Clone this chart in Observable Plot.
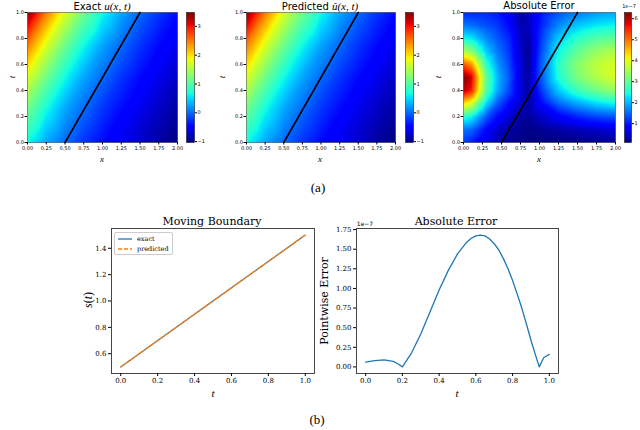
<!DOCTYPE html>
<html><head><meta charset="utf-8">
<script src="https://cdn.jsdelivr.net/npm/d3@7"></script>
<script src="https://cdn.jsdelivr.net/npm/@observablehq/plot@0.6"></script>
<style>
body{margin:0;background:#fff;}
#root{position:relative;width:640px;height:430px;overflow:hidden;background:#fff;}
.lbl{position:absolute;white-space:nowrap;transform:translate(-50%,-50%);color:#000;line-height:1;}
.m{font-family:"Liberation Serif",serif;font-style:italic;}
</style></head><body><div id="root"></div>
<script>
// ---------- data ----------
const xGrid = [0, 0.25, 0.5, 0.75, 1.0, 1.25, 1.5, 1.75, 2.0];
const tGrid = [0, 0.25, 0.5, 0.75, 1.0];
const uExact = [
  [0.65, 0.27, 0.00, -0.24, -0.44, -0.61, -0.76, -0.90, -1.03],
  [1.15, 0.65, 0.27, 0.00, -0.24, -0.44, -0.61, -0.76, -0.90],
  [1.75, 1.15, 0.65, 0.27, 0.00, -0.24, -0.44, -0.61, -0.76],
  [2.50, 1.75, 1.15, 0.65, 0.27, 0.00, -0.24, -0.44, -0.61],
  [3.48, 2.50, 1.75, 1.15, 0.65, 0.27, 0.00, -0.24, -0.44]
];
const uPred = [
  [0.65, 0.27, 0.00, -0.24, -0.44, -0.61, -0.76, -0.90, -1.03],
  [1.15, 0.65, 0.27, 0.00, -0.24, -0.44, -0.61, -0.76, -0.90],
  [1.75, 1.15, 0.65, 0.27, 0.00, -0.24, -0.44, -0.61, -0.76],
  [2.50, 1.75, 1.15, 0.65, 0.27, 0.00, -0.24, -0.44, -0.61],
  [3.48, 2.50, 1.75, 1.15, 0.65, 0.27, 0.00, -0.24, -0.44]
];
// absolute error field, in units of 1e-7
const xErrGrid = [0, 0.1, 0.2, 0.3, 0.45, 0.6, 0.75, 0.85, 1.0, 1.25, 1.5, 1.75, 2.0];
const tErrGrid = [0, 0.1, 0.2, 0.3, 0.4, 0.5, 0.6, 0.7, 0.8, 0.9, 1.0];
const errField = [
  [1.2, 1.05, 0.8, 0.55, 0.35, 0.2, 0.15, 0.1, 0.1, 0.1, 0.12, 0.15, 0.2],
  [1.6, 1.5, 1.2, 0.85, 0.5, 0.3, 0.2, 0.15, 0.2, 0.3, 0.4, 0.5, 0.6],
  [2.6, 2.4, 1.9, 1.4, 0.9, 0.55, 0.3, 0.25, 0.45, 0.8, 1.1, 1.3, 1.4],
  [4.3, 3.9, 3.0, 2.2, 1.4, 0.9, 0.5, 0.3, 0.8, 1.5, 1.9, 2.2, 2.4],
  [6.0, 5.6, 4.2, 2.9, 1.9, 1.3, 0.6, 0.3, 1.1, 2.1, 2.7, 3.1, 3.4],
  [6.3, 5.9, 4.4, 3.0, 2.0, 1.4, 0.6, 0.25, 1.3, 2.5, 3.2, 3.6, 3.9],
  [5.2, 4.8, 3.7, 2.6, 1.8, 1.3, 0.6, 0.2, 1.3, 2.6, 3.3, 3.7, 3.9],
  [3.6, 3.3, 2.7, 2.1, 1.6, 1.2, 0.5, 0.2, 1.2, 2.4, 3.0, 3.4, 3.6],
  [2.4, 2.3, 2.0, 1.7, 1.4, 1.1, 0.45, 0.3, 1.1, 2.1, 2.6, 2.9, 3.0],
  [1.6, 1.55, 1.45, 1.35, 1.2, 0.9, 0.35, 0.4, 1.0, 1.7, 2.1, 2.3, 2.4],
  [1.1, 1.1, 1.1, 1.1, 1.0, 0.75, 0.3, 0.45, 0.9, 1.35, 1.6, 1.8, 1.9]
];
// moving boundary
const tB = [0, 0.25, 0.5, 0.75, 1.0];
const sExact = [0.5, 0.75, 1.0, 1.25, 1.5];
const sPred = [0.5, 0.75, 1.0, 1.25, 1.5];
// pointwise error of boundary, units of 1e-7
const tE = [0, 0.05, 0.1, 0.15, 0.175, 0.2, 0.25, 0.3, 0.35, 0.4, 0.45, 0.5, 0.55, 0.575, 0.6, 0.625, 0.65, 0.675, 0.7, 0.725, 0.75, 0.775, 0.8, 0.825, 0.85, 0.875, 0.9, 0.925, 0.945, 0.97, 1.0];
const errLine = [0.06, 0.08, 0.09, 0.07, 0.04, 0.0, 0.18, 0.42, 0.70, 0.98, 1.23, 1.44, 1.59, 1.64, 1.67, 1.68, 1.67, 1.63, 1.57, 1.49, 1.38, 1.25, 1.10, 0.93, 0.75, 0.55, 0.34, 0.15, 0.0, 0.12, 0.16];
// ticks
const xHeatTicks = [0, 0.25, 0.5, 0.75, 1.0, 1.25, 1.5, 1.75, 2.0];
const tHeatTicks = [0, 0.2, 0.4, 0.6, 0.8, 1.0];
const uTicks = [-1, 0, 1, 2, 3];
const errTicks = [1, 2, 3, 4, 5, 6];
const tLineTicks = [0, 0.2, 0.4, 0.6, 0.8, 1.0];
const sTicks = [0.6, 0.8, 1.0, 1.2, 1.4];
const errLineTicks = [0, 0.25, 0.5, 0.75, 1.0, 1.25, 1.5, 1.75];

// ---------- helpers ----------
const root = document.getElementById("root");
function seg(t, pts){
  for (let i = 1; i < pts.length; i++){
    if (t <= pts[i][0]){
      const [a, va] = pts[i-1], [b, vb] = pts[i];
      return va + (vb - va) * (t - a) / (b - a);
    }
  }
  return pts[pts.length-1][1];
}
function jet(t){
  t = Math.max(0, Math.min(1, t));
  const r = seg(t, [[0,0],[0.35,0],[0.66,1],[0.89,1],[1,0.5]]);
  const g = seg(t, [[0,0],[0.125,0],[0.375,1],[0.64,1],[0.91,0],[1,0]]);
  const b = seg(t, [[0,0.5],[0.11,1],[0.34,1],[0.65,0],[1,0]]);
  return `rgb(${Math.round(r*255)},${Math.round(g*255)},${Math.round(b*255)})`;
}
function put(el, left, top){
  el.style.position = "absolute";
  el.style.left = left + "px";
  el.style.top = top + "px";
  root.appendChild(el);
}
function label(html, x, y, css, rot){
  const d = document.createElement("div");
  d.className = "lbl";
  d.innerHTML = html;
  d.style.left = x + "px";
  d.style.top = y + "px";
  d.style.cssText += css || "";
  if (rot) d.style.transform = "translate(-50%,-50%) rotate(-90deg)";
  root.appendChild(d);
}
function grid(xs, ts, vals){
  const out = [];
  ts.forEach((t, i) => xs.forEach((x, j) => out.push({x, t, v: vals[i][j]})));
  return out;
}
const boundary = tB.map((t, i) => ({t, s: sExact[i], p: sPred[i]}));
const topStyle = {fontFamily: "DejaVu Sans", fontSize: "5px", color: "#000", background: "transparent", overflow: "visible"};

function heat(xs, ts, vals, left, width, mL, mR, domain){
  const svg = Plot.plot({
    width, height: 170, marginLeft: mL, marginRight: mR, marginTop: 12, marginBottom: 28,
    style: topStyle,
    x: {domain: [0, 2]}, y: {domain: [0, 1]},
    color: {type: "linear", domain, interpolate: jet},
    marks: [
      Plot.raster(grid(xs, ts, vals), {x: "x", y: "t", fill: "v", interpolate: "barycentric", x1: 0, x2: 2, y1: 0, y2: 1}),
      Plot.line(boundary, {x: "s", y: "t", stroke: "black", strokeWidth: 1.6}),
      Plot.frame({stroke: "#000", strokeWidth: 0.4}),
      Plot.axisX({ticks: xHeatTicks, tickFormat: d3.format(".2f"), tickSize: 2.5, tickPadding: 1, fontSize: 5, label: null}),
      Plot.axisY({ticks: tHeatTicks, tickFormat: d3.format(".1f"), tickSize: 2.5, tickPadding: 1, fontSize: 5, label: null})
    ]
  });
  put(svg, left, 0);
}
function cbar(domain, ticks, left, width, mR){
  const svg = Plot.plot({
    width, height: 170, marginLeft: 0, marginRight: mR, marginTop: 12, marginBottom: 28,
    style: topStyle,
    x: {domain: [0, 1], axis: null}, y: {domain},
    color: {type: "linear", domain, interpolate: jet},
    marks: [
      Plot.raster({fill: (x, y) => y, x1: 0, x2: 1, y1: domain[0], y2: domain[1]}),
      Plot.frame({stroke: "#000", strokeWidth: 0.5}),
      Plot.axisY({anchor: "right", ticks, tickSize: 2, tickPadding: 1, fontSize: 5, label: null, tickFormat: d => d < 0 ? "\u2212" + Math.abs(d) : String(d)})
    ]
  });
  put(svg, left, 0);
}

// ---------- top row ----------
const uDomain = d3.extent(uExact.flat().concat(uPred.flat()));
const eDomain = d3.extent(errField.flat());
heat(xGrid, tGrid, uExact, 0, 182, 27, 5, uDomain);
cbar(uDomain, uTicks, 186, 20, 12);
heat(xGrid, tGrid, uPred, 215, 185, 31, 5, uDomain);
cbar(uDomain, uTicks, 405, 20, 12);
heat(xErrGrid, tErrGrid, errField, 430, 190, 33, 5, eDomain);
cbar(eDomain, errTicks, 624, 16, 9);

const titleCss = "font-family:'DejaVu Sans';font-size:10px;";
label('Exact <span class="m" style="font-size:11px">u</span><span class="m" style="font-size:11px">(x, t)</span>', 102, 6, titleCss);
label('Predicted <span class="m" style="font-size:11px">\u00fb(x, t)</span>', 320, 6, titleCss);
label('Absolute Error', 539, 6, titleCss);
label('1e\u22127', 629, 6, "font-family:'DejaVu Sans';font-size:5px;");
const axCss = "font-size:9px;";
label('<span class="m">x</span>', 102, 159, axCss);
label('<span class="m">x</span>', 320, 159, axCss);
label('<span class="m">x</span>', 539, 159, axCss);
label('<span class="m">t</span>', 12, 77, axCss, true);
label('<span class="m">t</span>', 222, 77, axCss, true);
label('<span class="m">t</span>', 438, 77, axCss, true);
label('(a)', 318, 187, "font-family:'Liberation Serif';font-size:13px;");

// ---------- bottom row ----------
const botStyle = {fontFamily: "DejaVu Serif", fontSize: "7px", color: "#000", background: "transparent", overflow: "visible"};
const pad = (lo, hi) => { const d = (hi - lo) * 0.05; return [lo - d, hi + d]; };

const b1 = Plot.plot({
  width: 260, height: 180, marginLeft: 51, marginRight: 6, marginTop: 18, marginBottom: 17,
  style: botStyle,
  x: {domain: pad(d3.min(tB), d3.max(tB))},
  y: {domain: pad(d3.min(sExact), d3.max(sExact))},
  marks: [
    Plot.line(boundary, {x: "t", y: "s", stroke: "#1f77b4", strokeWidth: 1.3}),
    Plot.line(boundary, {x: "t", y: "p", stroke: "#ff7f0e", strokeWidth: 1.3, strokeDasharray: "4,2"}),
    Plot.frame({stroke: "#333", strokeWidth: 0.9}),
    Plot.axisX({ticks: tLineTicks, tickFormat: d3.format(".1f"), tickSize: 3, tickPadding: 2, fontSize: 7, label: null}),
    Plot.axisY({ticks: sTicks, tickFormat: d3.format(".1f"), tickSize: 3, tickPadding: 2, fontSize: 7, label: null})
  ]
});
put(b1, 60, 210);

const errData = tE.map((t, i) => ({t, e: errLine[i]}));
const b2 = Plot.plot({
  width: 260, height: 180, marginLeft: 51, marginRight: 7, marginTop: 18, marginBottom: 17,
  style: botStyle,
  x: {domain: pad(d3.min(tE), d3.max(tE))},
  y: {domain: pad(d3.min(errLine), d3.max(errLine))},
  marks: [
    Plot.line(errData, {x: "t", y: "e", stroke: "#1f77b4", strokeWidth: 1.3}),
    Plot.frame({stroke: "#333", strokeWidth: 0.9}),
    Plot.axisX({ticks: tLineTicks, tickFormat: d3.format(".1f"), tickSize: 3, tickPadding: 2, fontSize: 7, label: null}),
    Plot.axisY({ticks: errLineTicks, tickFormat: d3.format(".2f"), tickSize: 3, tickPadding: 2, fontSize: 7, label: null})
  ]
});
put(b2, 305, 210);

const serif = "font-family:'DejaVu Serif';";
label('Moving Boundary', 212, 221, serif + "font-size:11px;");
label('Absolute Error', 456, 221, serif + "font-size:11px;");
label('1e\u22127', 365, 224, "font-family:'DejaVu Sans';font-size:6px;");
label('<span class="m">s</span>(<span class="m">t</span>)', 88, 300, "font-family:'Liberation Serif';font-size:12px;", true);
label('Pointwise Error', 324, 301, serif + "font-size:11px;", true);
label('<span class="m">t</span>', 213, 393, "font-size:11px;");
label('<span class="m">t</span>', 457, 393, "font-size:11px;");
label('(b)', 317, 419, "font-family:'Liberation Serif';font-size:13px;");

// legend
const leg = document.createElement("div");
leg.style.cssText = "position:absolute;left:114px;top:232px;width:57px;height:21px;border:0.8px solid #ccc;border-radius:2px;background:#fff;";
leg.innerHTML = `
<svg width="57" height="21" style="position:absolute;left:0;top:0">
  <line x1="3" x2="17" y1="6" y2="6" stroke="#1f77b4" stroke-width="1.3"/>
  <line x1="3" x2="17" y1="16" y2="16" stroke="#ff7f0e" stroke-width="1.3" stroke-dasharray="4,2"/>
  <text x="22" y="8.3" font-family="DejaVu Serif" font-size="6.5">exact</text>
  <text x="22" y="18.3" font-family="DejaVu Serif" font-size="6.5">predicted</text>
</svg>`;
root.appendChild(leg);
</script></body></html>
